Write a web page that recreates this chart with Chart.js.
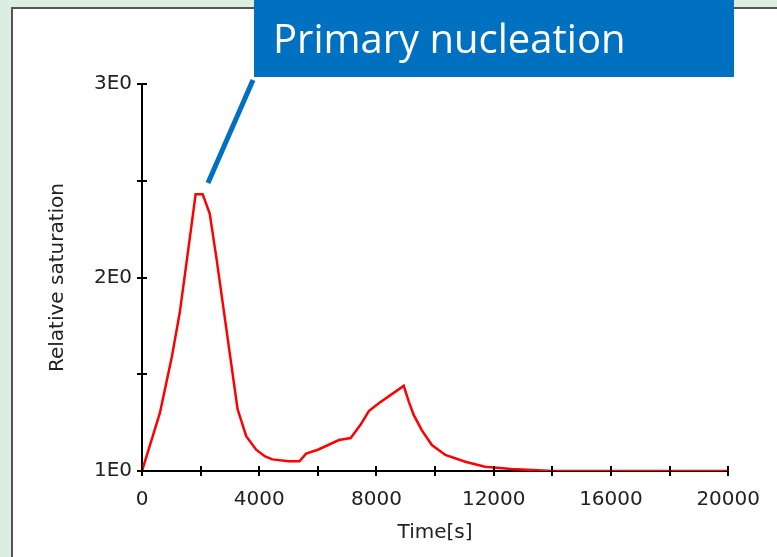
<!DOCTYPE html>
<html>
<head>
<meta charset="utf-8">
<script src="https://cdn.jsdelivr.net/npm/chart.js@4.4.0/dist/chart.umd.min.js"></script>
<style>
  html, body { margin: 0; padding: 0; background: #dcede2; }
  #wrap { width: 777px; height: 557px; position: relative; }
</style>
</head>
<body>
<div id="wrap"><canvas id="chart" width="777" height="557"></canvas></div>
<script>
"use strict";

// time [s] and relative saturation
let times = [0, 611, 1019, 1290, 1530, 1830, 2070, 2310, 2550, 3260, 3555, 3895, 4200,
  4450, 5000, 5370, 5600, 6000, 6720, 7120, 7460, 7740, 8080, 8930, 9100, 9270, 9550,
  9890, 10350, 11030, 11700, 12600, 13500, 14000, 16000, 18000, 20000];
let saturation = [1.0, 1.30, 1.59, 1.82, 2.09, 2.43, 2.43, 2.33, 2.09, 1.32, 1.18, 1.11, 1.075,
  1.06, 1.05, 1.05, 1.09, 1.11, 1.16, 1.17, 1.24, 1.31, 1.35, 1.44, 1.36, 1.29, 1.21,
  1.134, 1.083, 1.048, 1.022, 1.01, 1.004, 1.0, 1.0, 1.0, 1.0];
let xTickLabels = [0, 4000, 8000, 12000, 16000, 20000];
let yTickLabels = [1, 2, 3];
let calloutText = "Primary nucleation";

let points = [];
for (let i = 0; i < times.length; i++) {
  points.push({ x: times[i], y: saturation[i] });
}

let frame = {
  id: "frame",
  beforeDraw(chart) {
    let ctx = chart.ctx;
    ctx.save();
    ctx.fillStyle = "#dcede2";
    ctx.fillRect(0, 0, chart.width, chart.height);
    ctx.fillStyle = "#ffffff";
    ctx.fillRect(12, 8, chart.width, chart.height);
    ctx.strokeStyle = "#555555";
    ctx.lineWidth = 2;
    ctx.beginPath();
    ctx.moveTo(12, chart.height);
    ctx.lineTo(12, 8);
    ctx.lineTo(chart.width, 8);
    ctx.stroke();
    ctx.restore();
  },
  afterDatasetsDraw(chart) {
    let ctx = chart.ctx;
    ctx.save();
    ctx.strokeStyle = "#000000";
    ctx.lineWidth = 2;
    let xs = chart.scales.x;
    let ys = chart.scales.y;
    for (let t of xs.ticks) {
      let px = Math.round(xs.getPixelForValue(t.value));
      ctx.beginPath();
      ctx.moveTo(px, xs.top - 5);
      ctx.lineTo(px, xs.top + 5);
      ctx.stroke();
    }
    for (let t of ys.ticks) {
      let py = Math.round(ys.getPixelForValue(t.value));
      ctx.beginPath();
      ctx.moveTo(ys.right - 5, py);
      ctx.lineTo(ys.right + 5, py);
      ctx.stroke();
    }
    // callout
    ctx.fillStyle = "#0070c0";
    ctx.fillRect(254, 0, 480, 77);
    ctx.strokeStyle = "#0070c0";
    ctx.lineWidth = 5;
    ctx.beginPath();
    ctx.moveTo(253, 80);
    ctx.lineTo(208, 183);
    ctx.stroke();
    ctx.fillStyle = "#ffffff";
    ctx.font = "40px 'Open Sans'";
    ctx.textBaseline = "alphabetic";
    ctx.fillText(calloutText, 273, 53);
    ctx.restore();
  }
};

let tickFont = { family: "DejaVu Sans", size: 20 };

let chart = new Chart(document.getElementById("chart"), {
  type: "line",
  data: {
    datasets: [{
      data: points,
      borderColor: "#ff0000",
      borderWidth: 2.5,
      pointRadius: 0,
      tension: 0,
      fill: false
    }]
  },
  options: {
    responsive: false,
    animation: false,
    layout: { padding: { top: 84, right: 46, left: 0, bottom: 0 } },
    plugins: { legend: { display: false }, tooltip: { enabled: false } },
    scales: {
      x: {
        type: "linear",
        min: 0,
        max: 20000,
        afterFit(scale) { scale.height = 86; },
        border: { display: true, color: "#000000", width: 2 },
        grid: { display: false, drawTicks: false, tickLength: 5 },
        ticks: {
          stepSize: 2000,
          autoSkip: false,
          maxRotation: 0,
          padding: 17,
          color: "#222222",
          font: tickFont,
          callback: (v) => (xTickLabels.includes(v) ? String(v) : "")
        },
        title: {
          display: true,
          text: "Time[s]",
          color: "#222222",
          font: { family: "DejaVu Sans", size: 20 },
          padding: { top: 0, bottom: 12 }
        }
      },
      y: {
        type: "linear",
        min: 1,
        max: 3,
        afterFit(scale) { scale.width = 142; },
        border: { display: true, color: "#000000", width: 2 },
        grid: { display: false, drawTicks: false },
        ticks: {
          stepSize: 0.5,
          autoSkip: false,
          padding: 10,
          color: "#222222",
          font: tickFont,
          callback: (v) => (yTickLabels.includes(v) ? v + "E0" : "")
        },
        title: {
          display: true,
          text: "Relative saturation",
          color: "#222222",
          font: { family: "DejaVu Sans", size: 20 },
          padding: { top: 46, bottom: 0 }
        }
      }
    }
  },
  plugins: [frame]
});
</script>
</body>
</html>
